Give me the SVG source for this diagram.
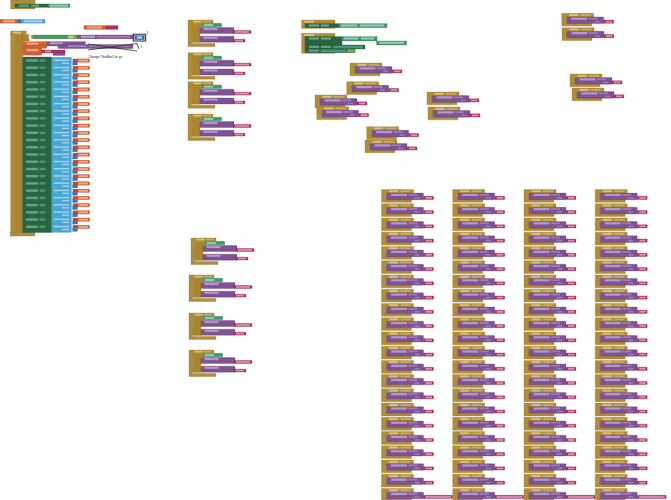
<svg xmlns="http://www.w3.org/2000/svg" xmlns:xlink="http://www.w3.org/1999/xlink" width="671" height="500" viewBox="0 0 671 500">
<style>
.gold{fill:#b18e35;stroke:#8f7028;stroke-width:0.3}
.gold2{fill:#a8852e;stroke:#8f7028;stroke-width:0.3}
.gf{fill:#d6c184}
.pu{fill:#7e5293;stroke:#5f3b72;stroke-width:0.3}
.pf{fill:#b49ac6}
.mg{fill:#b32d5e;stroke:#8c1f47;stroke-width:0.3}
.mf{fill:#dc8fae}
.dg{fill:#266643;stroke:#1a4a30;stroke-width:0.3}
.dgf{fill:#6f9f84}
.te{fill:#439970;stroke:#2f7352;stroke-width:0.3}
.tef{fill:#93c9ad}
.lb{fill:#49a6d4;stroke:#3487b3;stroke-width:0.3}
.lbf{fill:#a9d6ee}
.or{fill:#d05f2d;stroke:#a84820;stroke-width:0.3}
.orf{fill:#eaa585}
.rd{fill:#c0452f}
.bl{fill:#3f71b5;stroke:#2c5690;stroke-width:0.3}
.li{fill:#77ab41;stroke:#5c8a2f;stroke-width:0.3}
.lif{fill:#b9d797}
.ln{stroke:#2a2a2a;stroke-width:0.8;fill:none}
.tx{font-family:"Liberation Sans",Arial,sans-serif;fill:#111}
</style>
<defs>
<g id="ev1">
<path class="gold" d="M0,0H32V3.6H5V9.6H30V12.8H0Z"/>
<rect class="gf" x="7.5" y="0.8" width="9" height="2"/>
<rect class="gf" x="19" y="0.9" width="10" height="1.8" opacity="0.6"/>
<rect class="pu" x="5" y="3.6" width="37" height="6.6" rx="0.6"/>
<rect class="pf" x="9.5" y="4.3" width="16" height="2.2"/>
<rect class="pf" x="27" y="4.4" width="9" height="1.8" opacity="0.6"/>
<rect class="pf" x="33" y="7.6" width="5" height="1.6" opacity="0.6"/>
</g>
<g id="m1"><rect class="mg" x="42" y="6.8" width="10" height="3.2" rx="0.4"/><rect class="mf" x="44" y="7.5" width="6.5" height="1.8"/></g>
<g id="m2"><rect class="mg" x="42" y="6.8" width="29" height="3.2" rx="0.4"/><rect class="mf" x="44" y="7.5" width="25.5" height="1.8"/></g>
<g id="cell"><use xlink:href="#ev1"/><use xlink:href="#m1"/></g>
<g id="col">
<use xlink:href="#cell" y="0"/><use xlink:href="#cell" y="14.24"/><use xlink:href="#cell" y="28.48"/><use xlink:href="#cell" y="42.72"/>
<use xlink:href="#cell" y="56.96"/><use xlink:href="#cell" y="71.2"/><use xlink:href="#cell" y="85.44"/><use xlink:href="#cell" y="99.68"/>
<use xlink:href="#cell" y="113.92"/><use xlink:href="#cell" y="128.16"/><use xlink:href="#cell" y="142.4"/><use xlink:href="#cell" y="156.64"/>
<use xlink:href="#cell" y="170.88"/><use xlink:href="#cell" y="185.12"/><use xlink:href="#cell" y="199.36"/><use xlink:href="#cell" y="213.6"/>
<use xlink:href="#cell" y="227.84"/><use xlink:href="#cell" y="242.08"/><use xlink:href="#cell" y="256.32"/><use xlink:href="#cell" y="270.56"/>
<use xlink:href="#cell" y="284.8"/>
<use xlink:href="#ev1" y="299.04"/><use xlink:href="#m2" y="299.04"/>
</g>
<g id="ev2">
<path class="gold" d="M0,0H25V3.2H3.5V23.5H27V26.5H0Z"/>
<rect class="gf" x="5.5" y="0.7" width="8" height="1.9"/>
<rect class="gf" x="15" y="0.8" width="8" height="1.7" opacity="0.6"/>
<path class="gold2" d="M3.5,3.2H13.7V7.5H12V22.5H3.5Z"/>
<rect class="te" x="13.7" y="3.3" width="20" height="3.4" rx="0.5"/>
<rect class="tef" x="16" y="3.9" width="9" height="2.1"/>
<rect class="pu" x="12" y="7.5" width="34" height="6" rx="0.6"/>
<rect class="pf" x="15.5" y="8.1" width="14" height="2"/>
<rect class="mg" x="45" y="10.5" width="18" height="2.9" rx="0.4"/>
<rect class="mf" x="47" y="11.1" width="14" height="1.7"/>
<rect class="pu" x="12" y="16.2" width="34" height="6" rx="0.6"/>
<rect class="pf" x="15.5" y="16.8" width="14" height="2"/>
<rect class="mg" x="45" y="19.2" width="12" height="2.9" rx="0.4"/>
<rect class="mf" x="47" y="19.8" width="8" height="1.7"/>
</g>
<g id="row">
<rect class="dgf" x="26" y="1" width="12" height="2.4"/>
<rect class="dgf" x="39.5" y="1" width="6" height="2.4" opacity="0.7"/>
<rect class="lbf" x="54" y="1.3" width="15" height="1.4"/>
<rect class="lbf" x="62" y="4.3" width="7" height="1.3"/>
<rect class="rd" x="72.7" y="0.6" width="4.3" height="3.3"/>
<rect class="or" x="77" y="0.6" width="12.5" height="3.3"/>
<rect class="orf" x="78.5" y="1.2" width="9.5" height="2.1"/>
<rect class="bl" x="72.7" y="3.9" width="4.8" height="2.8"/>
</g>
</defs>

<g id="top-left-block">
<rect class="gold" x="10.7" y="0" width="24.3" height="9"/>
<rect class="dg" x="15" y="4" width="34" height="3.3"/>
<rect class="dgf" x="19" y="4.6" width="10" height="2"/>
<rect class="dgf" x="31" y="4.6" width="8" height="2"/>
<rect class="te" x="48" y="4" width="22" height="3.3"/>
<rect class="tef" x="50" y="4.6" width="18" height="2"/>
</g>

<g id="orange-row">
<rect class="or" x="0" y="19.5" width="18" height="3.6"/>
<rect class="orf" x="3" y="20.2" width="12" height="2.2"/>
<rect class="bl" x="18" y="19.5" width="3" height="3.6"/>
<rect class="lb" x="21" y="19.5" width="24" height="3.6"/>
<rect class="lbf" x="24" y="20.3" width="18" height="2"/>
</g>

<g id="red-block">
<rect class="or" x="84" y="25.7" width="22" height="3.6" fill="#c64a2f"/>
<rect class="mg" x="106" y="25.7" width="12" height="3.6"/>
<rect class="orf" x="87" y="26.4" width="15" height="2.1"/>
</g>

<g id="main-block">
<rect class="gold" x="10.7" y="31" width="15.5" height="3.5"/>
<rect class="gf" x="13" y="31.7" width="8" height="2"/>
<rect class="gold" x="10.7" y="34" width="4.6" height="202"/>
<rect class="gold" x="10.7" y="232.3" width="24.3" height="3.7"/>
<rect class="gold2" x="15.3" y="34.5" width="7.4" height="197.8"/>
<rect class="gold2" x="22" y="34.5" width="7" height="6.5"/>
<circle cx="29.5" cy="37" r="1.3" fill="#e8dcb0"/>
<rect class="li" x="31.5" y="35" width="46" height="3.8"/>
<rect class="te" x="34" y="35.5" width="18" height="2.8"/>
<rect class="te" x="53" y="35.5" width="14" height="2.8"/>
<rect class="lif" x="68.5" y="35.8" width="5" height="2.2"/>
<rect class="pu" x="77" y="35" width="56" height="3.8"/>
<rect class="pf" x="81" y="35.6" width="14" height="2.3"/>
<rect class="pf" x="97" y="35.8" width="33" height="1.8" opacity="0.6"/>
<rect x="133.3" y="34.2" width="12.4" height="6.8" fill="none" stroke="#1d2b3a" stroke-width="1"/>
<rect class="bl" x="134.6" y="35.4" width="9.8" height="4.4"/>
<rect class="lbf" x="137" y="36.3" width="5" height="2.4"/>
<rect class="or" x="22.7" y="41.7" width="24" height="6.6"/>
<rect class="orf" x="26.5" y="42.5" width="12" height="2.2"/>
<rect class="pu" x="46.7" y="41.7" width="38.5" height="4.3"/>
<rect class="pf" x="50" y="42.3" width="13" height="2"/>
<rect class="pu" x="58" y="44.5" width="75" height="4"/>
<rect class="pf" x="68" y="45.3" width="18" height="1.6" opacity="0.8"/>
<rect class="pf" x="89" y="45.2" width="40" height="1.8" opacity="0.5"/>
<rect class="or" x="22.7" y="48.3" width="19" height="6.8"/>
<rect class="orf" x="26.5" y="49" width="12" height="2.2"/>
<rect class="mg" x="41.7" y="50" width="23.3" height="3"/>
<rect class="mf" x="45" y="50.6" width="6" height="1.8"/>
<rect class="pu" x="53" y="52.8" width="12" height="2.6"/>
<rect class="dg" x="22.7" y="57" width="29" height="175.5"/>
<rect class="lb" x="51.7" y="57.3" width="19.6" height="175"/>
<line class="ln" x1="88" y1="44" x2="137" y2="51"/>
<line class="ln" x1="88" y1="50" x2="137" y2="43.5"/>
<line class="ln" x1="137" y1="43.5" x2="139" y2="49"/>
<text class="tx" x="146.5" y="34" font-size="3">1</text>
<text class="tx" x="140.5" y="48" font-size="3">1</text>
<text class="tx" x="88.5" y="58.2" font-size="3">Change #TextBox1 to: ge</text>
<use xlink:href="#row" y="58.3"/><use xlink:href="#row" y="65.53"/><use xlink:href="#row" y="72.76"/><use xlink:href="#row" y="79.99"/>
<use xlink:href="#row" y="87.22"/><use xlink:href="#row" y="94.45"/><use xlink:href="#row" y="101.68"/><use xlink:href="#row" y="108.91"/>
<use xlink:href="#row" y="116.14"/><use xlink:href="#row" y="123.37"/><use xlink:href="#row" y="130.6"/><use xlink:href="#row" y="137.83"/>
<use xlink:href="#row" y="145.06"/><use xlink:href="#row" y="152.29"/><use xlink:href="#row" y="159.52"/><use xlink:href="#row" y="166.75"/>
<use xlink:href="#row" y="173.98"/><use xlink:href="#row" y="181.21"/><use xlink:href="#row" y="188.44"/><use xlink:href="#row" y="195.67"/>
<use xlink:href="#row" y="202.9"/><use xlink:href="#row" y="210.13"/><use xlink:href="#row" y="217.36"/><use xlink:href="#row" y="224.59"/>
</g>

<g id="mid-upper">
<use xlink:href="#ev2" x="188" y="20"/>
<use xlink:href="#ev2" x="188" y="52.7"/>
<use xlink:href="#ev2" x="188" y="81.7"/>
<use xlink:href="#ev2" x="188" y="114"/>
</g>
<g id="mid-lower">
<use xlink:href="#ev2" x="191" y="238"/>
<use xlink:href="#ev2" x="189" y="275"/>
<use xlink:href="#ev2" x="189" y="313"/>
<use xlink:href="#ev2" x="189" y="350"/>
</g>

<g id="block-a">
<rect class="gold" x="301.7" y="20" width="33.3" height="8.3"/>
<rect class="gf" x="304" y="20.6" width="10" height="2"/>
<rect class="dg" x="305" y="23.7" width="34" height="4"/>
<rect class="dgf" x="309" y="24.4" width="10" height="2.2"/>
<rect class="dgf" x="321" y="24.4" width="8" height="2.2"/>
<rect class="te" x="339" y="23.7" width="48" height="4"/>
<rect class="tef" x="341" y="24.4" width="16" height="2.2"/>
<rect class="tef" x="360" y="24.4" width="24" height="2.2"/>
</g>
<g id="block-b">
<rect class="gold" x="301.7" y="33.3" width="33.3" height="20"/>
<rect class="gf" x="304" y="34" width="10" height="2"/>
<rect class="dg" x="305" y="36.7" width="37" height="8.3"/>
<rect class="dgf" x="309" y="37.4" width="10" height="2.2"/>
<rect class="dgf" x="321" y="37.4" width="10" height="2.2"/>
<rect class="te" x="342" y="36.7" width="35" height="4.3"/>
<rect class="tef" x="344" y="37.4" width="14" height="2.2"/>
<rect class="tef" x="361" y="37.4" width="13" height="2.2"/>
<rect class="te" x="376.7" y="41" width="30" height="4"/>
<rect class="tef" x="379" y="41.7" width="25" height="2.2"/>
<rect class="dg" x="305" y="45" width="60" height="4"/>
<rect class="dgf" x="309" y="45.7" width="10" height="2.2"/>
<rect class="dgf" x="321" y="45.7" width="10" height="2.2"/>
<rect class="te" x="333" y="45.6" width="30" height="2.8"/>
<rect class="dg" x="305" y="49" width="50" height="3.6"/>
<rect class="dgf" x="309" y="49.6" width="10" height="2"/>
<rect class="te" x="321" y="49.4" width="25" height="2.8"/>
<rect class="li" x="347" y="49.2" width="8" height="3.2"/>
</g>

<g id="small-blocks">
<use xlink:href="#cell" x="350" y="63"/>
<use xlink:href="#cell" x="346.7" y="81.7"/>
<use xlink:href="#cell" x="315" y="95"/>
<use xlink:href="#cell" x="316.7" y="106.7"/>
<use xlink:href="#cell" x="366.7" y="126.7"/>
<use xlink:href="#cell" x="365" y="140"/>
<use xlink:href="#cell" x="427" y="92"/>
<use xlink:href="#cell" x="428" y="107"/>
<use xlink:href="#cell" x="561.7" y="13.3"/>
<use xlink:href="#cell" x="562" y="27.7"/>
<use xlink:href="#cell" x="570" y="74"/>
<use xlink:href="#cell" x="572" y="88"/>
</g>

<g id="grid">
<use xlink:href="#col" x="381.5" y="189.5"/>
<use xlink:href="#col" x="452.7" y="189.5"/>
<use xlink:href="#col" x="524" y="189.5"/>
<use xlink:href="#col" x="595.2" y="189.5"/>
</g>
</svg>
